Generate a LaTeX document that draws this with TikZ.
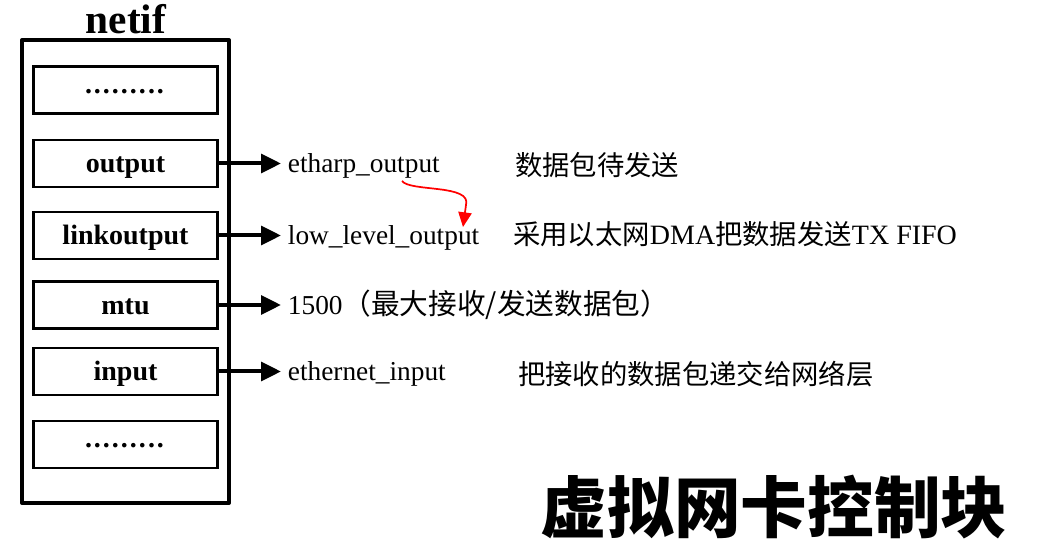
\documentclass[tikz,border=0pt]{standalone}
\usepackage{fontspec}
\setmainfont{Liberation Serif}
\newfontfamily\cjk{Noto Sans CJK SC}
\usetikzlibrary{arrows.meta}
\newcommand\dotrow{\foreach \i in {1,...,9}{.\kern1.5pt}}
\begin{document}
\begin{tikzpicture}[x=0.75pt,y=0.75pt,yscale=-1,
  field/.style={draw,line width=1.8pt,minimum width=138pt,minimum height=35pt,inner sep=0pt,text height=16pt,text depth=2pt,font=\fontsize{21}{24}\selectfont\bfseries},
  dotfield/.style={field,text height=5pt,text depth=0pt},
  value/.style={anchor=west,inner xsep=5pt,inner ysep=0pt,text height=15.5pt,text depth=1.5pt,font=\fontsize{20.5}{24}\selectfont},
  note/.style={anchor=west,inner sep=0pt,font=\fontsize{20.5}{24}\selectfont\cjk},
  link/.style={line width=3pt,-{Triangle[length=15pt,width=14pt]}}]
\useasboundingbox (0,0) rectangle (1045,548);

%Shape: netif block
\draw [line width=3pt,line join=round] (22,40) rectangle (229,503);
\node [font=\fontsize{31}{34}\selectfont\bfseries] (title) at (126,19) {netif};

% fields
\node [dotfield] (dotsA) at (125.5,90) {\dotrow};
\node [field] (output) at (125.5,163.5) {output};
\node [field] (linkoutput) at (125.5,235.5) {linkoutput};
\node [field] (mtu) at (125.5,305) {mtu};
\node [field] (input) at (125.5,371.5) {input};
\node [dotfield] (dotsB) at (125.5,444.5) {\dotrow};

% values
\node [value] (etharp) at (281,163.5) {etharp\_output};
\node [value] (lowlevel) at (281,235.5) {low\_level\_output};
\node [value] (mtuval) at (281,305) {1500{\cjk\fontsize{21.5}{24}\selectfont（最大接收/发送数据包）}};
\node [value] (ethin) at (281,371.5) {ethernet\_input};

% arrows
\draw [link] (output.east) -- (etharp.west);
\draw [link] (linkoutput.east) -- (lowlevel.west);
\draw [link] (mtu.east) -- (mtuval.west);
\draw [link] (input.east) -- (ethin.west);

%Curve Lines: red call
\coordinate (callA) at (402,181);
\coordinate (callB) at (463,227);
\draw [red,line width=1.3pt,-{Triangle[length=11pt,width=10pt]}] (callA) .. controls (410,192) and (472,184) .. (466,205) -- (callB);

% notes
\node [note] (noteA) at (515,165) {数据包待发送};
\node [note] (noteB) at (513,234) {采用以太网{\rmfamily\fontsize{21}{24}\selectfont DMA}把数据发送{\rmfamily\fontsize{21}{24}\selectfont TX FIFO}};
\node [note] (noteC) at (518,374) {把接收的数据包递交给网络层};
\node [font=\fontsize{50}{56}\selectfont\cjk\bfseries] (caption) at (774,507) {虚拟网卡控制块};

\end{tikzpicture}
\end{document}
